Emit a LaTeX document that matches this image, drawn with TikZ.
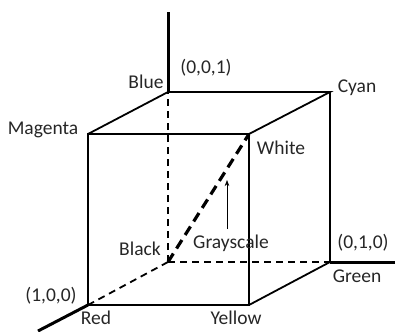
\documentclass[tikz,border=0pt]{standalone}
\usepackage{fontspec}
\setmainfont{Carlito}
\usetikzlibrary{arrows.meta}
\begin{document}
\begin{tikzpicture}[x=1pt,y=-1pt,>=Stealth,font=\fontsize{19.5}{22}\selectfont,
 edge/.style={line width=1.8pt},
 hid/.style={line width=1.8pt,dashed,dash pattern=on 7pt off 5pt},
 axis/.style={line width=3pt},
 lbl/.style={inner sep=0pt,text=black!85}]
\useasboundingbox (0,0) rectangle (395,331);
% cube corners
\coordinate (bk) at (168,262); \coordinate (bl) at (168,92);
\coordinate (gr) at (330,262); \coordinate (cy) at (330,92);
\coordinate (rd) at (88,305);  \coordinate (mg) at (88,134);
\coordinate (ye) at (249,305); \coordinate (wh) at (249,134);
% axes
\coordinate (zend) at (168,12); \coordinate (yend) at (395,262); \coordinate (xend) at (38,331);
\draw[axis] (bl)--(zend); \draw[axis] (gr)--(yend); \draw[axis] (rd)--(xend);
% hidden edges
\draw[hid] (bk)--(bl); \draw[hid] (bk)--(gr); \draw[hid] (bk)--(rd);
\draw[line width=3.2pt,dash pattern=on 10pt off 6pt] (bk)--(wh);
% visible edges
\draw[edge] (mg)--(wh)--(ye)--(rd)--cycle;
\draw[edge] (mg)--(bl)--(cy)--(wh); \draw[edge] (cy)--(gr)--(ye);
% grayscale arrow
\coordinate (ga) at (227,229); \coordinate (gb) at (227,180);
\draw[->,line width=0.7pt] (ga)--(gb);
% labels
\node[lbl] (lblue) at (146,82) {Blue};
\node[lbl] (lz) at (206,68) {(0,0,1)};
\node[lbl] (lcyan) at (357,88) {Cyan};
\node[lbl] (lmag) at (43,130) {Magenta};
\node[lbl] (lwhite) at (281,148) {White};
\node[lbl] (lblack) at (140,249) {Black};
\node[lbl] (lgray) at (231,243) {Grayscale};
\node[lbl] (ly) at (363,243) {(0,1,0)};
\node[lbl] (lgreen) at (357,276) {Green};
\node[lbl] (lx) at (51,296) {(1,0,0)};
\node[lbl] (lred) at (96,318) {Red};
\node[lbl] (lyel) at (236,318) {Yellow};
\end{tikzpicture}
\end{document}
